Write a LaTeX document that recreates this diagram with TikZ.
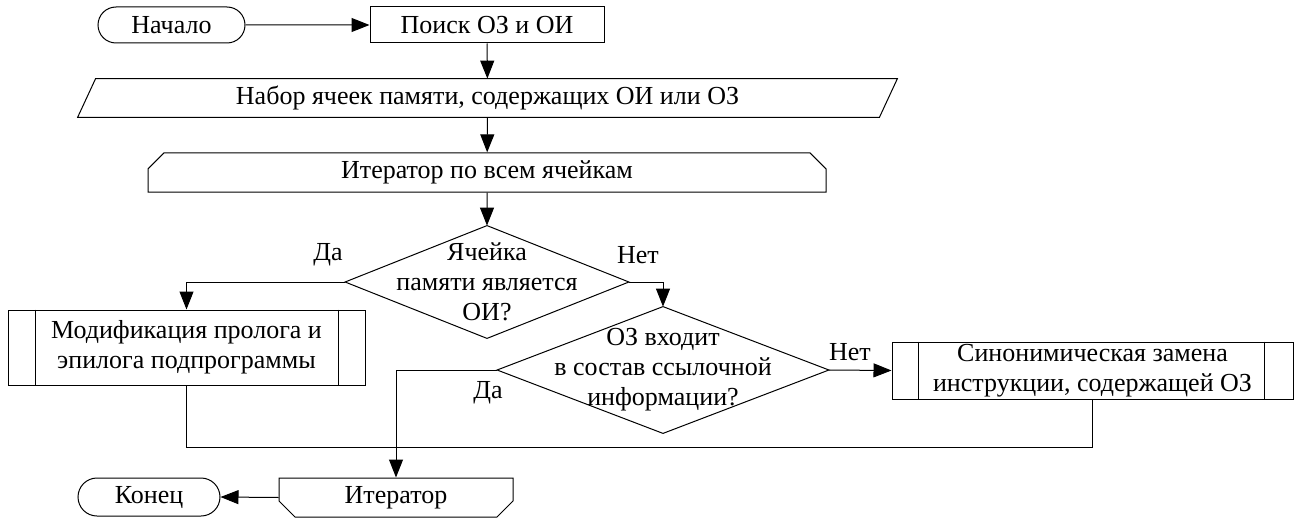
\documentclass[tikz,border=0pt]{standalone}
\usepackage{fontspec}
\setmainfont{Liberation Serif}
\usetikzlibrary{shapes.misc,shapes.geometric,arrows.meta,calc}
\begin{document}
\begin{tikzpicture}[x=0.5pt,y=-0.5pt,
  every node/.style={font=\fontspec{Liberation Serif}\fontsize{13pt}{15pt}\selectfont, align=center, inner sep=0pt},
  line/.style={draw=black, line width=0.5pt},
  arr/.style={line, -{Triangle[length=9pt,width=7pt]}},
  term/.style={line, rounded rectangle, minimum height=18pt},
  procbox/.style={line, rectangle, minimum height=18pt},
  loopbox/.style={line, chamfered rectangle, chamfered rectangle xsep=4pt, chamfered rectangle ysep=4pt, minimum height=19.5pt},
  shell/.style={rectangle},
  lbl/.style={}
]
\useasboundingbox (0,0) rectangle (1300,519);

\node[term, minimum width=73.5pt] (start) at (171.5,25) {Начало};
\node[procbox, minimum width=117pt] (search) at (487,25) {Поиск ОЗ и ОИ};
\node[shell, minimum width=409.5pt, minimum height=19pt] (data) at (487.5,98) {Набор ячеек памяти, содержащих ОИ или ОЗ};
\draw[line] ($(data.north west)+(18,0)$) -- (data.north east) -- ($(data.south east)-(18,0)$) -- (data.south west) -- cycle;
\node[loopbox, chamfered rectangle corners={north east,north west}, minimum width=339pt] (iter) at (487,172.5) {Итератор по всем ячейкам};

\node[shell, minimum width=141.5pt, minimum height=56pt] (dec1) at (487,282) {Ячейка\\памяти является\\ОИ?};
\draw[line] (dec1.north) -- (dec1.east) -- (dec1.south) -- (dec1.west) -- cycle;

\node[procbox, minimum width=178.5pt, minimum height=37.5pt] (mod) at (186.5,347.5) {Модификация пролога и\\эпилога подпрограммы};
\draw[line] ($(mod.north west)+(28,0)$) -- ($(mod.south west)+(28,0)$);
\draw[line] ($(mod.north east)-(27,0)$) -- ($(mod.south east)-(27,0)$);

\node[shell, minimum width=165.5pt, minimum height=63pt] (dec2) at (663,370) {ОЗ входит\\в состав ссылочной\\информации?};
\draw[line] (dec2.north) -- (dec2.east) -- (dec2.south) -- (dec2.west) -- cycle;

\node[procbox, minimum width=200.5pt, minimum height=28.5pt] (syn) at (1092.5,370.5) {Синонимическая замена\\инструкции, содержащей ОЗ};
\draw[line] ($(syn.north west)+(27,0)$) -- ($(syn.south west)+(27,0)$);
\draw[line] ($(syn.north east)-(29,0)$) -- ($(syn.south east)-(29,0)$);

\node[loopbox, chamfered rectangle corners={south east,south west}, minimum width=117pt] (iterend) at (396,497.5) {Итератор};
\node[term, minimum width=71pt, minimum height=19pt] (fin) at (149,497) {Конец};

\node[lbl] (yes1) at (328,255) {Да};
\node[lbl] (no1) at (638,255) {Нет};
\node[lbl] (yes2) at (488,393) {Да};
\node[lbl] (no2) at (850,352) {Нет};

\draw[arr] (start) -- (search);
\draw[arr] (search) -- (data);
\draw[arr] (data) -- (iter);
\draw[arr] (iter) -- (dec1.north);
\draw[arr] (dec1.west) -| (mod.north);
\draw[arr] (dec1.east) -| (dec2.north);
\draw[arr] (dec2.east) -- (syn.west);
\draw[arr] (dec2.west) -| (iterend.north);
\draw[line] (mod.south) -- ++(0,62) coordinate (m1) -| (syn.south);
\draw[arr] (iterend.west) -- (fin.east);
\end{tikzpicture}
\end{document}
